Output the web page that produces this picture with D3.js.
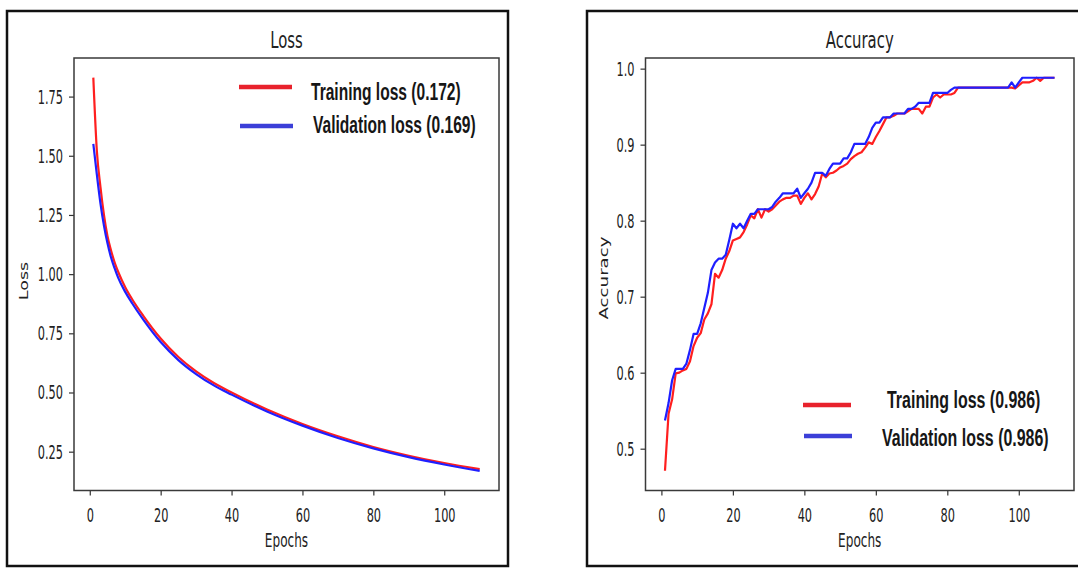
<!DOCTYPE html>
<html>
<head>
<meta charset="utf-8">
<script src="https://cdn.jsdelivr.net/npm/d3@7"></script>
<style>
  body { margin: 0; background: #fff; }
  svg { display: block; }
</style>
</head>
<body>
<div id="chart"></div>
<script>
// epochs for the accuracy curves (one point per epoch)
const epochs = d3.range(1, 111);

// loss at these epochs only (smooth curve)
const lossEpochs = [1, 2, 3, 4, 5, 6, 7, 8, 10, 12, 15, 20, 25, 30, 35, 40, 50, 60, 70, 80, 90, 100, 110];
const trainLoss = [1.83, 1.52, 1.37, 1.25, 1.16, 1.10, 1.05, 1.01, 0.945, 0.893, 0.826, 0.728, 0.65, 0.589, 0.54, 0.50, 0.428, 0.367, 0.315, 0.27, 0.233, 0.202, 0.176];
const valLoss = [1.55, 1.42, 1.30, 1.205, 1.13, 1.07, 1.025, 0.985, 0.925, 0.876, 0.81, 0.713, 0.637, 0.578, 0.53, 0.491, 0.42, 0.36, 0.308, 0.264, 0.227, 0.196, 0.169];

const trainAcc = [
    0.471, 0.546, 0.565, 0.599, 0.600, 0.603, 0.605, 0.615, 0.635, 0.646,
    0.652, 0.670, 0.678, 0.690, 0.730, 0.725, 0.735, 0.750, 0.760, 0.774,
    0.776, 0.778, 0.785, 0.795, 0.807, 0.803, 0.815, 0.804, 0.815, 0.812,
    0.815, 0.820, 0.825, 0.828, 0.830, 0.830, 0.833, 0.833, 0.822, 0.830,
    0.836, 0.828, 0.835, 0.845, 0.862, 0.857, 0.862, 0.863, 0.866, 0.870,
    0.872, 0.875, 0.881, 0.885, 0.888, 0.890, 0.896, 0.903, 0.901, 0.910,
    0.918, 0.927, 0.936, 0.936, 0.938, 0.941, 0.941, 0.941, 0.944, 0.947,
    0.947, 0.947, 0.941, 0.950, 0.950, 0.962, 0.966, 0.962, 0.966, 0.966,
    0.966, 0.968, 0.975, 0.975, 0.975, 0.975, 0.975, 0.975, 0.975, 0.975,
    0.975, 0.975, 0.975, 0.975, 0.975, 0.975, 0.975, 0.975, 0.974, 0.978,
    0.982, 0.982, 0.982, 0.984, 0.988, 0.984, 0.988, 0.988, 0.988, 0.988
];
const valAcc = [
    0.537, 0.560, 0.590, 0.605, 0.605, 0.605, 0.612, 0.630, 0.651, 0.651,
    0.665, 0.685, 0.705, 0.735, 0.745, 0.750, 0.750, 0.755, 0.775, 0.796,
    0.790, 0.796, 0.790, 0.800, 0.809, 0.809, 0.815, 0.815, 0.815, 0.815,
    0.818, 0.825, 0.830, 0.836, 0.836, 0.836, 0.836, 0.842, 0.830, 0.836,
    0.842, 0.850, 0.863, 0.863, 0.863, 0.859, 0.868, 0.875, 0.875, 0.875,
    0.882, 0.882, 0.890, 0.901, 0.901, 0.901, 0.901, 0.910, 0.922, 0.929,
    0.929, 0.936, 0.936, 0.936, 0.941, 0.941, 0.941, 0.941, 0.947, 0.947,
    0.950, 0.955, 0.955, 0.955, 0.955, 0.968, 0.968, 0.968, 0.968, 0.968,
    0.972, 0.975, 0.975, 0.975, 0.975, 0.975, 0.975, 0.975, 0.975, 0.975,
    0.975, 0.975, 0.975, 0.975, 0.975, 0.975, 0.975, 0.982, 0.975, 0.982,
    0.988, 0.988, 0.988, 0.988, 0.988, 0.988, 0.988, 0.988, 0.988, 0.988
];

const xTicks = [0, 20, 40, 60, 80, 100];
const lossTicks = [0.25, 0.50, 0.75, 1.00, 1.25, 1.50, 1.75];
const accTicks = [0.5, 0.6, 0.7, 0.8, 0.9, 1.0];

const lossLegend = ["Training loss (0.172)", "Validation loss (0.169)"];
const accLegend = ["Training loss (0.986)", "Validation loss (0.986)"];

// colours
const red = "#ff1f1f";
const blue = "#1f1fff";
const textColor = "#222";

const plotTop = 58;
const plotBottom = 490.5;

let svg = d3.select('#chart')
    .append('svg')
    .attr('width', 1078)
    .attr('height', 568);

svg.append('rect')
    .attr('width', 1078)
    .attr('height', 568)
    .attr('fill', '#fff');

// the two black frames round each figure
svg.append('rect')
    .attr('x', 7).attr('y', 11)
    .attr('width', 501).attr('height', 555)
    .attr('fill', 'none').attr('stroke', '#111').attr('stroke-width', 2.5);

svg.append('rect')
    .attr('x', 587).attr('y', 11)
    .attr('width', 520).attr('height', 555)
    .attr('fill', 'none').attr('stroke', '#111').attr('stroke-width', 2.5);

// stretch a text around its anchor (the source image is squashed sideways)
function stretch(sel, dx, dy, sx, sy) {
    sel.attr('x', 0).attr('y', 0)
        .attr('transform', `translate(${dx},${dy}) scale(${sx},${sy})`);
}

function drawPanel(opt) {

    let x = d3.scaleLinear()
        .domain([-4.45, 115.45])
        .range([opt.left, opt.right]);

    let y = d3.scaleLinear()
        .domain(opt.yDomain)
        .range([plotBottom, plotTop]);

    let g = svg.append('g');

    // title
    g.append('text')
        .attr('text-anchor', 'middle')
        .attr('font-family', 'DejaVu Sans')
        .attr('font-size', 16)
        .attr('fill', textColor)
        .attr('transform', `translate(${(opt.left + opt.right) / 2},48) scale(0.93,1.4)`)
        .text(opt.title);

    // x axis
    let gx = g.append('g')
        .attr('transform', `translate(0,${plotBottom})`)
        .call(d3.axisBottom(x).tickValues(xTicks).tickSize(5).tickFormat(d3.format('d')));
    gx.select('.domain').remove();
    gx.selectAll('.tick line').attr('stroke', '#333').attr('stroke-width', 1.2);
    gx.selectAll('.tick text')
        .attr('font-family', 'DejaVu Sans')
        .attr('font-size', 13.5)
        .attr('fill', textColor)
        .each(function () { stretch(d3.select(this), 0, 17, 0.84, 1.5); });

    // y axis
    let gy = g.append('g')
        .attr('transform', `translate(${opt.left},0)`)
        .call(d3.axisLeft(y).tickValues(opt.yTicks).tickSize(5).tickFormat(opt.yFormat));
    gy.select('.domain').remove();
    gy.selectAll('.tick line').attr('stroke', '#333').attr('stroke-width', 1.2);
    gy.selectAll('.tick text')
        .attr('font-family', 'DejaVu Sans')
        .attr('font-size', 13.5)
        .attr('fill', textColor)
        .each(function () { stretch(d3.select(this), -11, 0, 0.84, 1.5); });

    // axis labels
    g.append('text')
        .attr('text-anchor', 'middle')
        .attr('font-family', 'DejaVu Sans')
        .attr('font-size', 13)
        .attr('fill', textColor)
        .attr('transform', `translate(${(opt.left + opt.right) / 2},547) scale(0.93,1.45)`)
        .text('Epochs');

    g.append('text')
        .attr('text-anchor', 'middle')
        .attr('font-family', 'DejaVu Sans')
        .attr('font-size', 13)
        .attr('fill', textColor)
        .attr('transform', `translate(${opt.yLabelX},${opt.yLabelY}) rotate(-90) scale(${opt.yLabelStretch},0.95)`)
        .text(opt.yLabel);

    // plot box
    g.append('rect')
        .attr('x', opt.left).attr('y', plotTop)
        .attr('width', opt.right - opt.left)
        .attr('height', plotBottom - plotTop)
        .attr('fill', 'none')
        .attr('stroke', '#3a3a3a')
        .attr('stroke-width', 1.5);

    // curves, validation drawn last like matplotlib does
    opt.series.forEach(function (s) {
        let line = d3.line()
            .x((d, i) => x(s.x[i]))
            .y(d => y(d))
            .curve(s.curve);
        g.append('path')
            .datum(s.values)
            .attr('d', line)
            .attr('fill', 'none')
            .attr('stroke', s.color)
            .attr('stroke-width', 2.2)
            .attr('stroke-linejoin', 'round');
    });

    // legend
    opt.legend.forEach(function (l) {
        g.append('line')
            .attr('x1', l.x1).attr('x2', l.x2)
            .attr('y1', l.y).attr('y2', l.y)
            .attr('stroke', l.color)
            .attr('stroke-width', 4.5);
        g.append('text')
            .attr('font-family', 'Liberation Sans, Arial, sans-serif')
            .attr('font-weight', 'bold')
            .attr('font-size', 19)
            .attr('fill', '#161616')
            .attr('transform', `translate(${l.tx},${l.ty}) scale(${l.sx},1.22)`)
            .text(l.label);
    });
}

drawPanel({
    title: 'Loss',
    left: 74, right: 499,
    yDomain: [0.086, 1.913],
    yTicks: lossTicks,
    yFormat: d3.format('.2f'),
    yLabel: 'Loss',
    yLabelX: 28, yLabelY: 281, yLabelStretch: 1.35,
    series: [
        {x: lossEpochs, values: trainLoss, color: red, curve: d3.curveMonotoneX},
        {x: lossEpochs, values: valLoss, color: blue, curve: d3.curveMonotoneX}
    ],
    legend: [
        {label: lossLegend[0], color: '#e8222c', x1: 239, x2: 292, y: 87, tx: 311, ty: 100, sx: 0.82},
        {label: lossLegend[1], color: '#3b3fd8', x1: 240, x2: 293, y: 126, tx: 313, ty: 133, sx: 0.82}
    ]
});

drawPanel({
    title: 'Accuracy',
    left: 645.5, right: 1074,
    yDomain: [0.445, 1.014],
    yTicks: accTicks,
    yFormat: d3.format('.1f'),
    yLabel: 'Accuracy',
    yLabelX: 608, yLabelY: 278, yLabelStretch: 1.4,
    series: [
        {x: epochs, values: trainAcc, color: red, curve: d3.curveLinear},
        {x: epochs, values: valAcc, color: blue, curve: d3.curveLinear}
    ],
    legend: [
        {label: accLegend[0], color: '#e8222c', x1: 803, x2: 851, y: 405, tx: 887, ty: 408, sx: 0.84},
        {label: accLegend[1], color: '#3b3fd8', x1: 804, x2: 852, y: 436, tx: 882, ty: 446, sx: 0.84}
    ]
});
</script>
</body>
</html>
